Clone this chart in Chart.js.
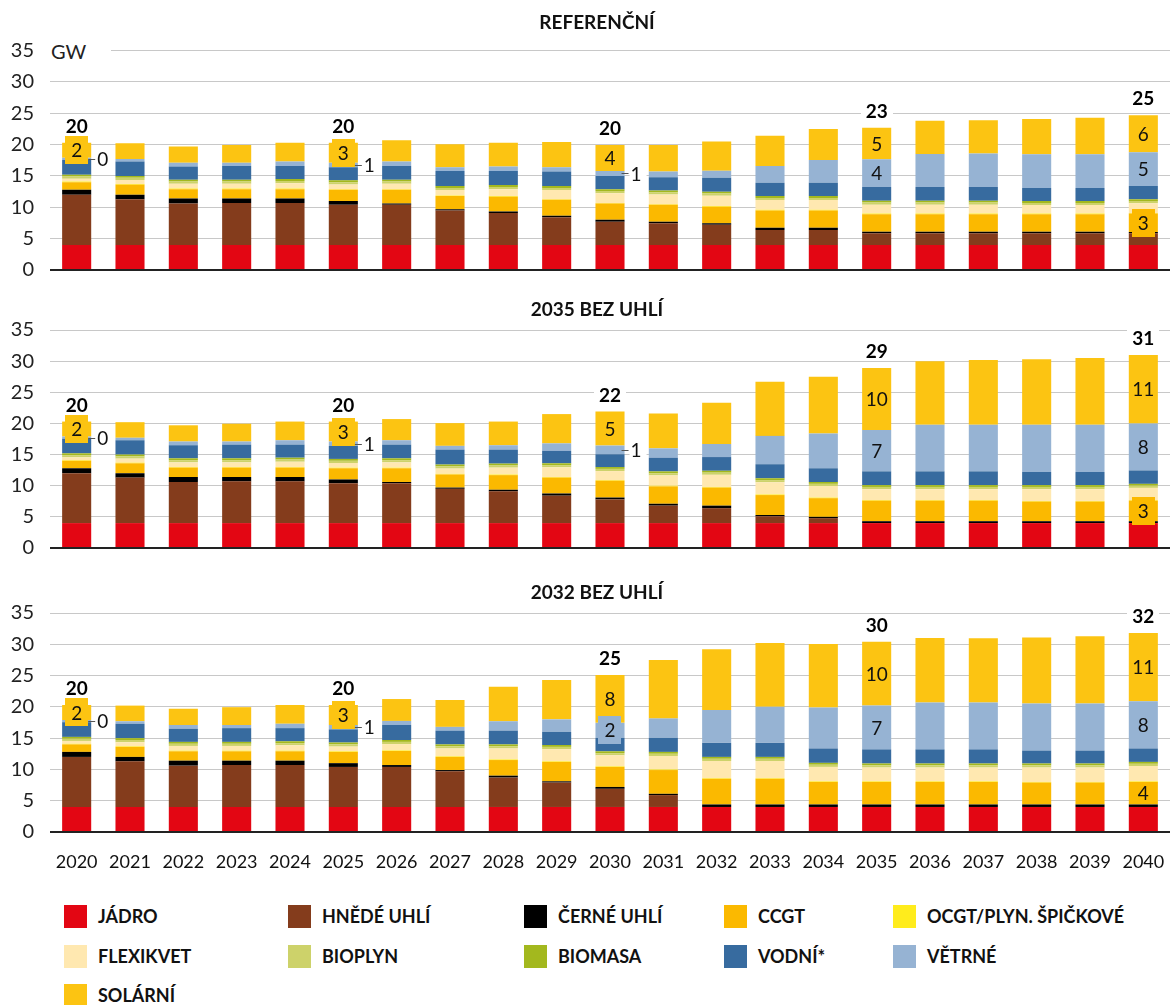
<!DOCTYPE html>
<html>
<head>
<meta charset="utf-8">
<script src="https://cdn.jsdelivr.net/npm/chart.js@4.4.1/dist/chart.umd.min.js"></script>
<style>
  html, body { margin:0; padding:0; background:#fff; }
  body { width:1172px; height:1005px; position:relative; overflow:hidden; font-family:'Lato', sans-serif; }
  canvas { position:absolute; left:0; }
  .title { position:absolute; left:397px; width:400px; text-align:center; font:bold 19px 'Lato'; color:#111; line-height:22px; }
  .gw { position:absolute; left:46px; top:39px; width:60px; padding-left:5px; background:#fff; font:20px 'Lato'; color:#222; line-height:24px; }
  .leg { position:absolute; font:bold 18px 'Lato'; color:#111; line-height:23px; white-space:nowrap; }
  .leg span { display:inline-block; width:23px; height:23px; vertical-align:top; margin-right:11px; }
</style>
</head>
<body>
<canvas id="c1" width="1172" height="250" style="top:30px"></canvas>
<canvas id="c2" width="1172" height="250" style="top:310px"></canvas>
<canvas id="c3" width="1172" height="279" style="top:593px"></canvas>
<div class="title" style="top:11px">REFERENČNÍ</div>
<div class="title" style="top:298px">2035 BEZ UHLÍ</div>
<div class="title" style="top:581px">2032 BEZ UHLÍ</div>
<div class="gw">GW</div>
<div id="legend"></div>
<script>
// ---------- DATA ----------
const years = ['2020','2021','2022','2023','2024','2025','2026','2027','2028','2029','2030','2031','2032','2033','2034','2035','2036','2037','2038','2039','2040'];
const seriesNames = ['JÁDRO','HNĚDÉ UHLÍ','ČERNÉ UHLÍ','CCGT','OCGT/PLYN. ŠPIČKOVÉ','FLEXIKVET','BIOPLYN','BIOMASA','VODNÍ*','VĚTRNÉ','SOLÁRNÍ'];
const seriesColors = ['#E30613','#843C1C','#000000','#FBB900','#FFEC1C','#FFE8B0','#CDD26A','#A3B81E','#376B9F','#96B3D3','#FCC412'];
const panelTitles = ['REFERENČNÍ','2035 BEZ UHLÍ','2032 BEZ UHLÍ'];
const yTicks = [0,5,10,15,20,25,30,35];
const labelYears = ['2020','2025','2030','2035','2040'];

// common series (all scenarios)
const nuclear = [4,4,4,4,4,4,4,4,4,4,4,4,4,4,4,4,4,4,4,4,4];
const ocgt    = [0.1,0.1,0.1,0.1,0.1,0.1,0.1,0.1,0.1,0.1,0.1,0.1,0.1,0.1,0.1,0.1,0.1,0.1,0.1,0.1,0.1];
const bioplyn = [0.35,0.35,0.35,0.35,0.35,0.35,0.35,0.35,0.35,0.35,0.35,0.35,0.35,0.35,0.35,0.35,0.35,0.35,0.35,0.35,0.35];
const biomasa = [0.3,0.3,0.3,0.3,0.3,0.3,0.3,0.3,0.3,0.3,0.3,0.3,0.3,0.3,0.3,0.3,0.3,0.3,0.3,0.3,0.3];

// REFERENČNÍ
const refBrown = [8.0,7.3,6.6,6.7,6.7,6.4,6.4,5.5,5.1,4.4,3.7,3.45,3.2,2.4,2.4,1.85,1.85,1.85,1.85,1.85,1.85];
const refBlack = [0.8,0.7,0.8,0.7,0.7,0.6,0.2,0.2,0.25,0.25,0.3,0.25,0.25,0.35,0.35,0.25,0.25,0.25,0.25,0.25,0.2];
const refCcgt  = [1.2,1.6,1.5,1.5,1.5,1.8,2.2,2.1,2.35,2.55,2.6,2.7,2.65,2.75,2.75,2.8,2.8,2.8,2.8,2.8,2.95];
const refFlexi = [0.45,0.65,0.75,0.75,0.85,0.75,0.85,0.85,1.1,1.45,1.55,1.55,1.65,1.55,1.55,1.4,1.4,1.4,1.35,1.35,1.55];
const refHydro = [2.35,2.3,2.1,2.2,2.1,2.1,2.2,2.4,2.25,2.3,2.1,2.1,2.2,2.1,2.1,2.2,2.2,2.2,2.1,2.1,2.1];
const refWind  = [0.35,0.4,0.6,0.5,0.7,0.7,0.7,0.6,0.7,0.7,0.8,0.9,1.15,2.7,3.65,4.4,5.25,5.35,5.35,5.35,5.4];
const refSolar = [2.4,2.5,2.6,2.85,3.0,3.2,3.4,3.65,3.8,4.0,4.15,4.25,4.65,4.8,4.95,5.05,5.3,5.3,5.65,5.85,5.9];

// 2035 BEZ UHLÍ
const c35Brown = [8.0,7.3,6.6,6.7,6.7,6.4,6.4,5.5,5.1,4.4,3.8,2.8,2.4,1.1,0.8,0,0,0,0,0,0];
const c35Black = [0.8,0.7,0.8,0.7,0.7,0.6,0.2,0.2,0.25,0.35,0.3,0.3,0.4,0.2,0.2,0.3,0.3,0.3,0.3,0.3,0.3];
const c35Ccgt  = [1.2,1.6,1.5,1.5,1.5,1.8,2.2,2.1,2.35,2.55,2.7,2.8,2.9,3.2,3.0,3.3,3.3,3.3,3.15,3.15,3.3];
const c35Flexi = [0.45,0.65,0.75,0.75,0.85,0.75,0.85,0.85,1.1,1.55,1.45,1.65,1.95,1.95,1.85,1.75,1.75,1.75,1.9,1.9,1.95];
const c35Hydro = [2.35,2.3,2.1,2.2,2.1,2.1,2.2,2.4,2.25,2.0,2.05,2.2,2.2,2.25,2.2,2.2,2.2,2.2,2.1,2.1,2.15];
const c35Wind  = [0.35,0.4,0.6,0.5,0.7,0.7,0.7,0.6,0.7,1.2,1.4,1.5,2.1,4.55,5.6,6.65,7.5,7.5,7.6,7.6,7.55];
const c35Solar = [2.4,2.5,2.6,2.85,3.0,3.2,3.4,3.65,3.8,4.7,5.45,5.6,6.6,8.7,9.1,9.95,10.2,10.4,10.5,10.7,11.0];

// 2032 BEZ UHLÍ
const c32Brown = [8.0,7.3,6.6,6.7,6.7,6.4,6.4,5.7,4.7,3.9,2.9,1.9,0,0,0,0,0,0,0,0,0];
const c32Black = [0.8,0.7,0.8,0.7,0.7,0.6,0.3,0.2,0.3,0.2,0.3,0.2,0.4,0.4,0.4,0.4,0.4,0.4,0.4,0.4,0.4];
const c32Ccgt  = [1.2,1.6,1.5,1.5,1.5,1.8,2.25,2.1,2.5,3.1,3.2,3.8,4.1,4.1,3.6,3.6,3.6,3.6,3.5,3.5,3.6];
const c32Flexi = [0.45,0.65,0.75,0.75,0.85,0.75,1.0,1.25,1.75,1.95,1.75,2.15,2.75,2.75,2.3,2.2,2.2,2.2,2.3,2.3,2.45];
const c32Hydro = [2.35,2.3,2.1,2.2,2.1,2.1,2.4,2.2,2.2,2.1,2.15,2.25,2.25,2.25,2.3,2.25,2.25,2.25,2.05,2.05,2.15];
const c32Wind  = [0.35,0.4,0.6,0.5,0.7,0.7,0.65,0.6,1.5,2.0,2.4,3.1,5.25,5.75,6.55,7.0,7.5,7.5,7.55,7.55,7.55];
const c32Solar = [2.4,2.5,2.6,2.85,3.0,3.2,3.5,4.3,5.5,6.3,7.65,9.35,9.7,10.2,10.15,10.2,10.3,10.25,10.55,10.75,10.9];

// ---------- BUILD ----------
const FONT = 'Lato';
function buildDatasets(brown, black, ccgt, flexi, hydro, wind, solar) {
  const arrs = [nuclear, brown, black, ccgt, ocgt, flexi, bioplyn, biomasa, hydro, wind, solar];
  return arrs.map((d, k) => ({
    label: seriesNames[k], data: d, backgroundColor: seriesColors[k], borderWidth: 0,
    stack: 's', barPercentage: 0.545, categoryPercentage: 1.0
  }));
}

function textBox(ctx, txt, cx, cy, font, color, bg, padX, h) {
  ctx.save();
  ctx.font = font;
  const w = ctx.measureText(txt).width;
  if (bg) { ctx.fillStyle = bg; ctx.fillRect(Math.round(cx - w/2 - padX), Math.round(cy - h/2), Math.round(w + 2*padX), h); }
  ctx.fillStyle = color; ctx.textAlign = 'center'; ctx.textBaseline = 'middle';
  ctx.fillText(txt, cx, cy + 1);
  ctx.restore();
}

const labelPlugin = {
  id: 'valueLabels',
  afterDatasetsDraw(chart) {
    const ctx = chart.ctx, ys = chart.scales.y;
    const dsets = chart.data.datasets;
    labelYears.forEach(yr => {
      const i = chart.data.labels.indexOf(yr);
      let total = 0; dsets.forEach(ds => total += ds.data[i]);
      const ref = chart.getDatasetMeta(10).data[i];
      const x = ref.x, half = ref.width / 2;
      const topY = ys.getPixelForValue(total);
      textBox(ctx, String(Math.round(total)), x, topY - 17, 'bold 19px ' + FONT, '#000', '#fff', 5, 20);
      const segs = [10, 9];
      if (i === chart.data.labels.length - 1) segs.push(3);
      segs.forEach(k => {
        const el = chart.getDatasetMeta(k).data[i];
        const v = dsets[k].data[i];
        const t = Math.min(el.y, el.base), b = Math.max(el.y, el.base);
        const cy = (t + b) / 2, h = b - t;
        const txt = String(Math.round(v));
        if (k === 9 && v < 1.5) {
          ctx.save();
          ctx.font = '19px ' + FONT;
          const w = ctx.measureText(txt).width;
          const tx = x + half + 6;
          ctx.fillStyle = '#fff';
          ctx.fillRect(tx - 1, cy - 10, w + 6, 20);
          ctx.strokeStyle = '#555'; ctx.lineWidth = 1;
          ctx.beginPath(); ctx.moveTo(x + half - 3, Math.round(cy) + 0.5); ctx.lineTo(x + half + 4, Math.round(cy) + 0.5); ctx.stroke();
          ctx.fillStyle = '#111'; ctx.textAlign = 'left'; ctx.textBaseline = 'middle';
          ctx.fillText(txt, tx, cy + 1);
          ctx.restore();
        } else if (h < 22) {
          textBox(ctx, txt, x, cy, '19px ' + FONT, '#111', dsets[k].backgroundColor, 6, 28);
        } else {
          textBox(ctx, txt, x, cy, '19px ' + FONT, '#111', null, 0, 0);
        }
      });
    });
  }
};

function makeChart(id, datasets, padTop, padBottom, showX) {
  return new Chart(document.getElementById(id), {
    type: 'bar',
    data: { labels: years, datasets },
    plugins: [labelPlugin],
    options: {
      responsive: false, animation: false, devicePixelRatio: 1,
      layout: { padding: { top: padTop, bottom: padBottom, left: 0, right: 2 } },
      plugins: { legend: { display: false }, tooltip: { enabled: false }, title: { display: false } },
      scales: {
        x: {
          stacked: true, display: showX,
          grid: { display: false, drawTicks: false }, border: { display: false },
          ticks: { font: { family: FONT, size: 18 }, color: '#111', padding: 19, maxRotation: 0, autoSkip: false },
          afterFit: s => { s.height = showX ? 40 : 0; s.paddingLeft = 0; s.paddingRight = 0; }
        },
        y: {
          stacked: true, min: 0, max: 35,
          afterBuildTicks: s => { s.ticks = yTicks.map(v => ({ value: v })); },
          afterFit: s => { s.width = 50; s.paddingTop = 0; s.paddingBottom = 0; },
          border: { display: false },
          grid: {
            drawTicks: false,
            color: c => c.tick.value === 0 ? '#222' : '#c8c8c8',
            lineWidth: c => c.tick.value === 0 ? 2 : 1
          },
          ticks: { font: { family: FONT, size: 20 }, color: '#222', padding: 16 }
        }
      }
    }
  });
}

makeChart('c1', buildDatasets(refBrown, refBlack, refCcgt, refFlexi, refHydro, refWind, refSolar), 20.6, 10, false);
makeChart('c2', buildDatasets(c35Brown, c35Black, c35Ccgt, c35Flexi, c35Hydro, c35Wind, c35Solar), 20, 12, false);
makeChart('c3', buildDatasets(c32Brown, c32Black, c32Ccgt, c32Flexi, c32Hydro, c32Wind, c32Solar), 20, 0, true);

// ---------- LEGEND ----------
const legCols = [64, 288, 524, 724, 893];
const legRows = [905, 945, 984];
const legend = document.getElementById('legend');
seriesNames.forEach((name, k) => {
  const d = document.createElement('div');
  d.className = 'leg';
  d.style.left = legCols[k % 5] + 'px';
  d.style.top = legRows[Math.floor(k / 5)] + 'px';
  d.innerHTML = '<span style="background:' + seriesColors[k] + '"></span>' + name;
  legend.appendChild(d);
});
</script>
</body>
</html>
